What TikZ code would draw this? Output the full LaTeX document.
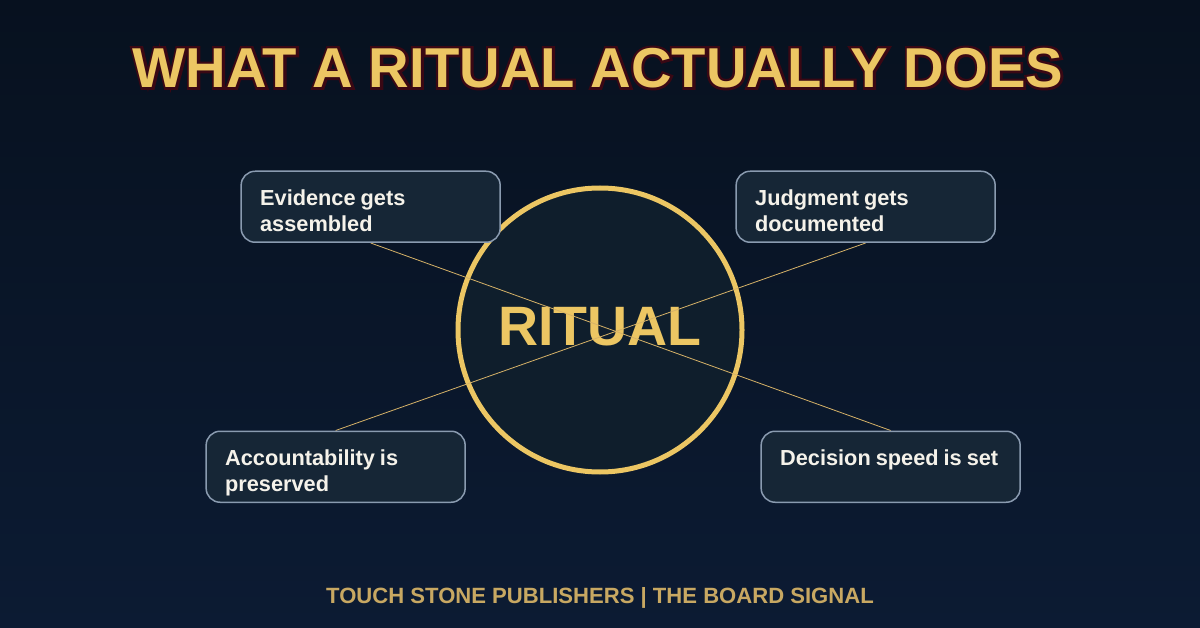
\documentclass[tikz,border=0pt]{standalone}
\usepackage{fontspec}
\setmainfont{Liberation Sans}[BoldFont={Liberation Sans Bold}]
\newfontfamily\titlestroke{Liberation Sans Bold}[FakeBold=9]
\usetikzlibrary{shadings}
\definecolor{bgtop}{RGB}{7,17,31}
\definecolor{bgbot}{RGB}{12,27,51}
\definecolor{gold}{RGB}{236,198,99}
\definecolor{linkgold}{RGB}{214,178,104}
\definecolor{footgold}{RGB}{200,168,98}
\definecolor{halo}{RGB}{58,8,20}
\definecolor{circfill}{RGB}{15,30,44}
\definecolor{boxfill}{RGB}{22,38,54}
\definecolor{boxline}{RGB}{138,155,176}
\definecolor{boxtext}{RGB}{245,242,234}
\newcommand{\cardlines}[2]{\spaceskip=5pt\relax\rule{0pt}{34.5pt}#1\\\rule[-10.5pt]{0pt}{1pt}#2}
\pgfdeclarelayer{front}
\pgfsetlayers{main,front}
\tikzset{
  card/.style={draw=boxline,fill=boxfill,line width=1.5pt,rounded corners=14pt,
    minimum width=259pt,minimum height=71pt,anchor=north west,inner xsep=19pt,inner ysep=0pt,
    text width=221pt,align=left,text=boxtext,font=\fontsize{21.75}{26}\selectfont\bfseries},
  link/.style={draw=linkgold,line width=0.8pt},
}
\begin{document}
\begin{tikzpicture}[x=1pt,y=-1pt]
\useasboundingbox (0,0) rectangle (1200,628);
\shade[top color=bgtop,bottom color=bgbot] (0,0) rectangle (1200,628);
\node[anchor=center,inner sep=0pt,text=gold,font=\fontsize{56.2}{60}\selectfont\bfseries] (title) at (598,68)
  {\rlap{\titlestroke\fontsize{56.2}{60}\selectfont\textcolor{halo}{WHAT A RITUAL ACTUALLY DOES}}WHAT A RITUAL ACTUALLY DOES};
\node[circle,draw=gold,fill=circfill,line width=5pt,minimum size=284pt,inner sep=0pt] (ring) at (600,330) {};
\node[inner sep=0pt,text=gold,font=\fontsize{55.5}{60}\selectfont\bfseries] (ritual) at (600,327) {RITUAL};
\begin{pgfonlayer}{front}
\node[card] (ev) at (240.4,170.5) {\cardlines{Evidence gets}{assembled}};
\node[card] (ju) at (735.4,170.5) {\cardlines{Judgment gets}{documented}};
\node[card] (ac) at (205.4,430.5) {\cardlines{Accountability is}{preserved}};
\node[card] (de) at (760.4,430.5) {\cardlines{\mbox{Decision speed is set}}{}};
\end{pgfonlayer}
\draw[link] (ev.south) -- (de.north);
\draw[link] (ju.south) -- (ac.north);
\node[inner sep=0pt,text=footgold,font=\fontsize{22.08}{26}\selectfont\bfseries] (foot) at (600,598) {TOUCH STONE PUBLISHERS | THE BOARD SIGNAL};
\end{tikzpicture}
\end{document}
